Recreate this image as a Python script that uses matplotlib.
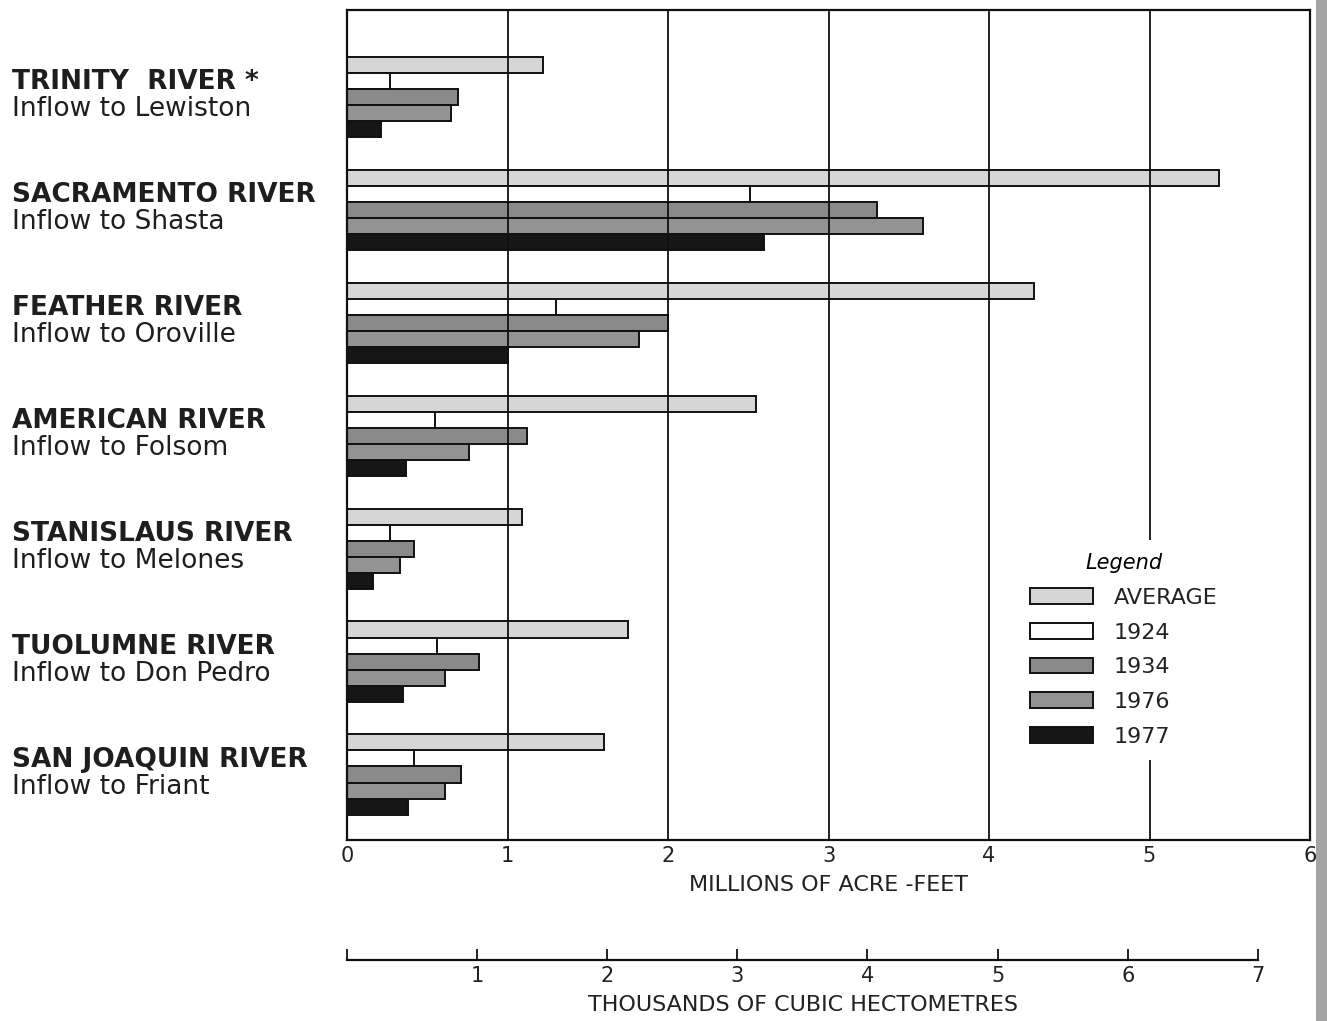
import numpy as np
import matplotlib
matplotlib.use("Agg")
import matplotlib.pyplot as plt
from matplotlib.patches import Rectangle
from matplotlib.transforms import blended_transform_factory

# values, millions of acre-feet
rivers = ["TRINITY  RIVER *", "SACRAMENTO RIVER", "FEATHER RIVER", "AMERICAN RIVER",
          "STANISLAUS RIVER", "TUOLUMNE RIVER", "SAN JOAQUIN RIVER"]
inflows = ["Inflow to Lewiston", "Inflow to Shasta", "Inflow to Oroville", "Inflow to Folsom",
           "Inflow to Melones", "Inflow to Don Pedro", "Inflow to Friant"]
series_names = ["AVERAGE", "1924", "1934", "1976", "1977"]
average = [1.22, 5.43, 4.28, 2.55, 1.09, 1.75, 1.60]
y1924 = [0.27, 2.51, 1.30, 0.55, 0.27, 0.56, 0.42]
y1934 = [0.69, 3.30, 2.00, 1.12, 0.42, 0.82, 0.71]
y1976 = [0.65, 3.59, 1.82, 0.76, 0.33, 0.61, 0.61]
y1977 = [0.21, 2.60, 1.00, 0.37, 0.16, 0.35, 0.38]
maf_ticks = [0, 1, 2, 3, 4, 5, 6]
hm3_ticks = [0, 1, 2, 3, 4, 5, 6, 7]
HM3_PER_MAF = 1.2335

colors = ["#d6d6d6", "#ffffff", "#8a8a8a", "#939393", "#161616"]

W, H = 1327, 1021
fig = plt.figure(figsize=(W / 100, H / 100), dpi=100)
fig.patch.set_facecolor("white")

def fx(px):
    return px / W

def fy(py):
    return 1 - py / H

ax = fig.add_axes([fx(347), fy(840), fx(1310) - fx(347), fy(10) - fy(840)])

bar_h = 0.142
n = len(rivers)
centers = np.arange(n)
all_series = [average, y1924, y1934, y1976, y1977]
for i, (vals, name, c) in enumerate(zip(all_series, series_names, colors)):
    offs = (i - 2) * bar_h
    ax.barh(centers + offs, vals, height=bar_h, color=c, edgecolor="#111111",
            linewidth=1.4, label=name, zorder=2)

for t in maf_ticks[1:-1]:
    ax.axvline(t, color="#111111", linewidth=1.3, zorder=3)

ax.set_xlim(0, 6)
ax.set_ylim(6.58, -0.77)
ax.set_yticks([])
ax.set_xticks(maf_ticks)
ax.set_xticklabels([str(t) for t in maf_ticks], fontsize=15)
ax.tick_params(axis="x", length=0, pad=4, colors="#222222")
for sp in ax.spines.values():
    sp.set_linewidth(1.6)
    sp.set_color("#111111")
ax.set_xlabel("MILLIONS OF ACRE -FEET", fontsize=16, labelpad=7, color="#222222")

# river names on the left
tr = blended_transform_factory(fig.transFigure, ax.transData)
for k in range(n):
    ax.text(fx(12), k - 0.066, rivers[k], transform=tr, fontsize=19, fontweight="bold",
            va="baseline", ha="left", color="#1e1e1e", clip_on=False)
    ax.text(fx(12), k + 0.172, inflows[k], transform=tr, fontsize=19,
            va="baseline", ha="left", color="#1e1e1e", clip_on=False)

leg = ax.legend(loc="center", bbox_to_anchor=((1124 - 347) / 963, 1 - (650 - 10) / 830),
                fontsize=16, title="Legend", frameon=True, framealpha=1,
                handlelength=2.8, handleheight=0.72, handletextpad=0.95,
                labelspacing=0.66, borderpad=0.6)
leg.get_frame().set_edgecolor("none")
leg.get_frame().set_facecolor("white")
leg.get_title().set_fontstyle("italic")
leg.get_title().set_fontsize(15)
leg.set_zorder(5)
for txt in leg.get_texts():
    txt.set_color("#222222")

# second scale, thousands of cubic hectometres
ax2 = fig.add_axes([fx(347), fy(960), fx(1310) - fx(347), 0.02])
ax2.set_xlim(0, 6 * HM3_PER_MAF)
ax2.set_ylim(0, 1)
ax2.patch.set_alpha(0)
for side in ["top", "left", "right"]:
    ax2.spines[side].set_visible(False)
ax2.spines["bottom"].set_bounds(0, 7)
ax2.spines["bottom"].set_linewidth(1.6)
ax2.spines["bottom"].set_color("#111111")
ax2.set_yticks([])
ax2.set_xticks(hm3_ticks)
ax2.set_xticklabels([""] + [str(t) for t in hm3_ticks[1:]], fontsize=15, color="#222222")
ax2.tick_params(axis="x", direction="in", length=8, width=1.3, pad=4, color="#111111")

fig.text(fx(803), fy(1005), "THOUSANDS OF CUBIC HECTOMETRES", fontsize=16,
         ha="center", va="center", color="#222222")

# scan edge on the right
fig.patches.append(Rectangle((fx(1316), 0), fx(W) - fx(1316), 1, transform=fig.transFigure,
                             facecolor="#a4a4a4", edgecolor="none"))

fig.savefig("out.png", dpi=100)
